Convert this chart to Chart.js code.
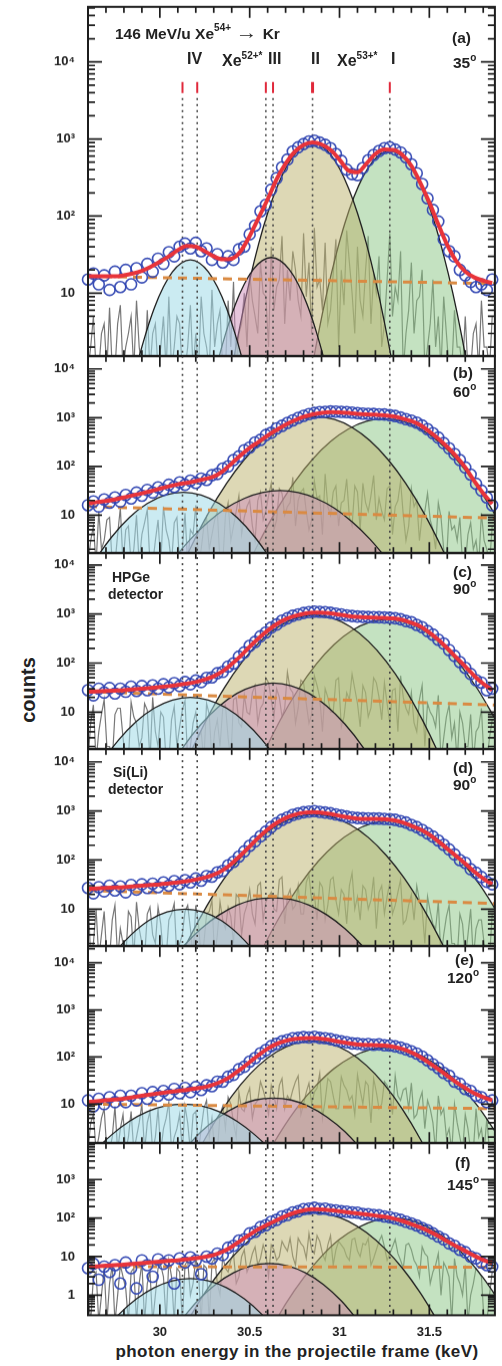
<!DOCTYPE html>
<html><head><meta charset="utf-8">
<script src="https://cdn.jsdelivr.net/npm/chart.js@4.4.1/dist/chart.umd.min.js"></script>
<style>
html,body{margin:0;padding:0;background:#fff;}
body{width:502px;height:1366px;overflow:hidden;position:relative;font-family:'Liberation Sans',Arial,sans-serif;}
.wrap{position:absolute;left:0;width:502px;}
.wrap canvas{display:block;}
.lbl{position:absolute;font-weight:bold;color:#222;font-size:15.5px;white-space:nowrap;line-height:16px;z-index:5;}
.lbl sup{font-size:10px;position:relative;top:-2px;vertical-align:top;line-height:10px;}
.big{font-size:16px;}
.det{font-size:14px;line-height:14px;}
.arrow{font-weight:normal;font-size:19px;display:inline-block;transform:scaleX(1.15);margin:0 2px;}
#ytitle{position:absolute;left:28px;top:690px;transform:translate(-50%,-50%) rotate(-90deg);font-weight:bold;font-size:20px;color:#222;white-space:nowrap;}
#xtitle{position:absolute;left:297px;top:1352px;transform:translate(-50%,-50%);font-weight:bold;font-size:17px;letter-spacing:0.4px;color:#222;white-space:nowrap;}
</style></head><body>
<div id="ytitle">counts</div>
<div id="xtitle">photon energy in the projectile frame (keV)</div>
<div class="lbl" style="left:115px;top:25px;">146 MeV/u Xe<sup>54+</sup> <span class="arrow">&rarr;</span> Kr</div>
<div class="lbl big" style="left:187px;top:51px;">IV</div>
<div class="lbl big" style="left:222px;top:53px;">Xe<sup>52+*</sup></div>
<div class="lbl big" style="left:268px;top:51px;">III</div>
<div class="lbl big" style="left:311px;top:51px;">II</div>
<div class="lbl big" style="left:337px;top:53px;">Xe<sup>53+*</sup></div>
<div class="lbl big" style="left:391px;top:51px;">I</div>
<div class="lbl" style="left:452px;top:30px;">(a)</div>
<div class="lbl" style="left:453px;top:55px;">35<sup>o</sup></div>
<div class="lbl" style="left:453px;top:365px;">(b)</div>
<div class="lbl" style="left:453px;top:384px;">60<sup>o</sup></div>
<div class="lbl det" style="left:112px;top:570px;">HPGe</div>
<div class="lbl det" style="left:108px;top:587px;">detector</div>
<div class="lbl" style="left:453px;top:564px;">(c)</div>
<div class="lbl" style="left:453px;top:581px;">90<sup>o</sup></div>
<div class="lbl det" style="left:113px;top:765px;">Si(Li)</div>
<div class="lbl det" style="left:108px;top:782px;">detector</div>
<div class="lbl" style="left:453px;top:760px;">(d)</div>
<div class="lbl" style="left:453px;top:777px;">90<sup>o</sup></div>
<div class="lbl" style="left:455px;top:952px;">(e)</div>
<div class="lbl" style="left:447px;top:970px;">120<sup>o</sup></div>
<div class="lbl" style="left:455px;top:1155px;">(f)</div>
<div class="lbl" style="left:447px;top:1177px;">145<sup>o</sup></div>
<script>
// ---------- shared grids ----------
const energy = [29.60,29.63,29.66,29.69,29.72,29.75,29.78,29.81,29.84,29.87,29.90,29.93,29.96,29.99,30.02,30.05,30.08,30.11,30.14,30.17,30.20,30.23,30.26,30.29,30.32,30.35,30.38,30.41,30.44,30.47,30.50,30.53,30.56,30.59,30.62,30.65,30.68,30.71,30.74,30.77,30.80,30.83,30.86,30.89,30.92,30.95,30.98,31.01,31.04,31.07,31.10,31.13,31.16,31.19,31.22,31.25,31.28,31.31,31.34,31.37,31.40,31.43,31.46,31.49,31.52,31.55,31.58,31.61,31.64,31.67,31.70,31.73,31.76,31.79,31.82,31.85];
const energyMid = [29.615,29.645,29.675,29.705,29.735,29.765,29.795,29.825,29.855,29.885,29.915,29.945,29.975,30.005,30.035,30.065,30.095,30.125,30.155,30.185,30.215,30.245,30.275,30.305,30.335,30.365,30.395,30.425,30.455,30.485,30.515,30.545,30.575,30.605,30.635,30.665,30.695,30.725,30.755,30.785,30.815,30.845,30.875,30.905,30.935,30.965,30.995,31.025,31.055,31.085,31.115,31.145,31.175,31.205,31.235,31.265,31.295,31.325,31.355,31.385,31.415,31.445,31.475,31.505,31.535,31.565,31.595,31.625,31.655,31.685,31.715,31.745,31.775,31.805,31.835];
const fitEnergy = [29.60,29.65,29.70,29.75,29.80,29.85,29.90,29.95,30.00,30.05,30.10,30.15,30.20,30.25,30.30,30.35,30.40,30.45,30.50,30.55,30.60,30.65,30.70,30.75,30.80,30.85,30.90,30.95,31.00,31.05,31.10,31.15,31.20,31.25,31.30,31.35,31.40,31.45,31.50,31.55,31.60,31.65,31.70,31.75,31.80,31.85];
const bgEnergy = [29.60, 31.86];
const lineEnergies = [30.126, 30.208, 30.59, 30.63, 30.85, 31.28];
const xTickValues = [29.7,29.8,29.9,30.0,30.1,30.2,30.3,30.4,30.5,30.6,30.7,30.8,30.9,31.0,31.1,31.2,31.3,31.4,31.5,31.6,31.7,31.8];
const xTickLabels = ['30','30.5','31','31.5'];
const yTickLabels = {1:'1', 10:'10', 100:'10\u00b2', 1000:'10\u00b3', 10000:'10\u2074'};

// ---------- panel (a) 35 deg ----------
const countsA = [15,18,13,17,11,19,12,20,13,21,16,24,19,28,24,34,30,40,44,38,45,35,38,27,32,25,30,27,37,40,58,75,115,140,220,310,430,540,690,780,860,930,950,900,840,760,640,520,400,350,340,420,530,620,700,760,780,730,670,580,470,360,260,170,120,85,50,35,30,20,17,14,12,13,11,15];
const fitA = [16.5,16.5,16.5,16.5,17,18,19.5,22,25.5,30,36,41,40,35,30,27.5,28,35,55,95,165,300,480,680,840,905,850,720,540,390,370,480,640,730,720,620,450,270,150,78,42,26,19,16,14.5,13.5];
const bgA = [16.5, 13.3];
const resA = [1,5,1,4,6.5,1,7,2,5,8,1,6,3,1,5,9,2,4,1,7,3,9,2,11,4,1,8,14,3,10,18,5,25,9,40,12,55,20,35,8,60,25,70,15,45,6,50,20,65,10,40,5,55,18,30,4,60,12,35,3,25,8,20,2,15,5,9,1,6,2,5,1,4,8,2,5];
const resA_mid = [2,1,3,1,1,4,1,3,1,2,1,1,4,2,1,1,5,1,2,1,1,3,1,2,6,1,2,1,4,2,8,3,10,2,6,15,4,8,20,5,9,3,12,6,4,18,2,7,25,3,8,20,4,10,2,15,5,8,1,6,3,9,1,4,2,1,3,1,2,1,1,3,1,2,1];
const a_IV = [[29.82,0.35],[29.87,1.1],[29.92,2.9],[29.97,6.5],[30.02,12.1],[30.07,18.9],[30.12,24.6],[30.17,27],[30.22,24.6],[30.27,18.9],[30.32,12.1],[30.37,6.5],[30.42,2.9],[30.47,1.1],[30.52,0.35]];
const a_III = [[30.27,0.4],[30.32,1.23],[30.37,3.2],[30.42,7.1],[30.47,13.1],[30.52,20.3],[30.57,26.4],[30.62,29],[30.67,26.4],[30.72,20.3],[30.77,13.1],[30.82,7.1],[30.87,3.2],[30.92,1.23],[30.97,0.4]];
const a_II = [[30.35,0.21],[30.40,1.02],[30.45,4.2],[30.50,14.7],[30.55,43.6],[30.60,109],[30.65,231],[30.70,415],[30.75,630],[30.80,809],[30.85,880],[30.90,809],[30.95,630],[31.00,415],[31.05,231],[31.10,109],[31.15,43.6],[31.20,14.7],[31.25,4.2],[31.30,1.02],[31.35,0.21]];
const a_I = [[30.78,0.13],[30.83,0.64],[30.88,2.8],[30.93,10.2],[30.98,31],[31.03,81],[31.08,176],[31.13,322],[31.18,495],[31.23,642],[31.28,700],[31.33,642],[31.38,495],[31.43,322],[31.48,176],[31.53,81],[31.58,31],[31.63,10.2],[31.68,2.8],[31.73,0.64],[31.78,0.13]];

// ---------- panel (b) 60 deg ----------
const countsB = [16,19,15,21,18,23,19,26,22,29,25,33,29,37,33,42,38,47,42,51,46,56,53,66,70,90,100,135,160,215,245,310,350,440,490,600,680,780,880,990,1090,1180,1250,1300,1320,1340,1330,1320,1300,1270,1240,1210,1200,1190,1170,1160,1120,1080,1010,930,870,790,690,580,480,390,300,235,180,135,95,68,44,32,23,16];
const fitB = [17.5,18.5,19.5,21,23,25.5,28,31,35,39,43,46,50,55,62,80,115,170,240,320,430,560,720,880,1040,1170,1260,1300,1290,1250,1200,1170,1150,1120,1060,960,850,700,520,370,250,160,95,50,28,17];
const bgB = [15, 8.7];
const resB = [1,6,12,3,9,1,14,5,1,10,4,13,1,8,15,3,7,1,11,5,16,2,9,4,12,1,18,6,25,9,20,3,30,12,45,8,28,15,60,20,35,5,50,25,70,10,40,18,55,6,30,45,12,65,22,8,40,15,50,3,35,20,10,28,5,18,2,12,6,9,1,7,3,11,2,6];
const resB_mid = [3,1,2,8,1,4,1,6,2,1,7,1,3,1,5,1,9,2,1,4,1,6,2,8,1,10,3,12,4,15,6,20,8,25,5,35,10,18,6,30,12,8,22,4,15,30,6,20,9,40,5,18,25,8,12,35,4,20,10,6,15,3,12,8,2,9,1,5,3,1,4,2,1,3,1];
const b_IV = [[29.53,0.24],[29.63,1.05],[29.73,3.5],[29.83,8.9],[29.93,17.3],[30.03,25.8],[30.13,29.5],[30.23,25.8],[30.33,17.3],[30.43,8.9],[30.53,3.5],[30.63,1.05],[30.73,0.24]];
const b_III = [[29.97,0.35],[30.07,1.16],[30.17,3.2],[30.27,7.3],[30.37,14],[30.47,22],[30.57,29],[30.67,32],[30.77,29],[30.87,22],[30.97,14],[31.07,7.3],[31.17,3.2],[31.27,1.16],[31.37,0.35]];
const b_II = [[30.07,0.32],[30.17,2.1],[30.27,11],[30.37,44],[30.47,138],[30.57,335],[30.67,631],[30.77,923],[30.87,1047],[30.97,923],[31.07,631],[31.17,335],[31.27,138],[31.37,44],[31.47,11],[31.57,2.1],[31.67,0.32]];
const b_I = [[30.45,0.45],[30.55,2.7],[30.65,12.8],[30.75,48],[30.85,140],[30.95,324],[31.05,589],[31.15,843],[31.25,950],[31.35,843],[31.45,589],[31.55,324],[31.65,140],[31.75,48],[31.85,12.8],[31.95,2.7]];

// ---------- panel (c) 90 deg HPGe ----------
const countsC = [28,22,30,25,31,24,30,26,33,27,34,28,35,30,37,32,39,34,41,37,44,41,50,51,62,66,85,98,135,165,225,270,350,420,530,610,730,820,920,980,1050,1090,1120,1110,1090,1060,1020,980,940,910,890,880,870,865,860,850,840,820,780,720,680,600,540,450,380,300,250,185,140,105,80,60,45,40,28,30];
const fitC = [26,26.5,27,27.5,28,29,30,31,32.5,34,36,38,41,46,54,68,95,140,215,320,460,620,780,910,1010,1070,1070,1030,970,910,870,850,840,830,810,760,660,560,420,300,200,130,85,55,38,28];
const bgC = [26, 14];
const resC = [1,14,4,18,2,9,12,1,16,6,3,11,20,2,8,1,13,5,17,2,10,4,15,1,7,12,3,18,6,22,9,35,12,50,18,30,8,65,25,12,40,6,55,20,30,10,45,5,25,60,15,35,8,50,20,40,6,30,55,12,25,4,35,15,8,22,3,14,6,10,2,9,4,12,1,7];
const resC_mid = [6,1,9,2,1,12,3,1,8,2,15,1,4,10,1,7,2,11,1,6,3,1,9,4,2,14,1,20,5,10,25,6,15,40,8,20,12,30,6,45,15,9,35,4,20,10,50,8,18,30,5,25,12,40,7,15,28,4,20,9,6,18,2,10,5,1,8,3,1,6,2,1,5,1,3];
const c_IV = [[29.57,0.22],[29.67,0.87],[29.77,2.7],[29.87,6.5],[29.97,12.1],[30.07,17.6],[30.17,20],[30.27,17.6],[30.37,12.1],[30.47,6.5],[30.57,2.7],[30.67,0.87],[30.77,0.22]];
const c_III = [[30.03,0.52],[30.13,1.95],[30.23,5.7],[30.33,13.2],[30.43,24.1],[30.53,34.5],[30.63,39],[30.73,34.5],[30.83,24.1],[30.93,13.2],[31.03,5.7],[31.13,1.95],[31.23,0.52]];
const c_II = [[30.06,0.16],[30.16,1.22],[30.26,7.1],[30.36,31.8],[30.46,108],[30.56,280],[30.66,552],[30.76,830],[30.86,950],[30.96,830],[31.06,552],[31.16,280],[31.26,108],[31.36,31.8],[31.46,7.1],[31.56,1.22],[31.66,0.16]];
const c_I = [[30.47,0.18],[30.57,1.26],[30.67,6.9],[30.77,29],[30.87,95],[30.97,239],[31.07,461],[31.17,684],[31.27,780],[31.37,684],[31.47,461],[31.57,239],[31.67,95],[31.77,29],[31.87,6.9]];

// ---------- panel (d) 90 deg Si(Li) ----------
const countsD = [27,21,28,23,30,24,29,22,31,25,32,27,33,28,35,30,37,32,39,35,42,38,47,46,56,60,78,92,118,150,195,240,305,380,470,560,660,740,830,890,940,970,990,960,930,900,850,810,770,740,720,710,705,700,700,690,680,660,620,580,520,470,410,350,300,250,205,165,130,100,88,65,55,45,36,32];
const fitD = [26,26.5,27,27.5,28,29,30,31,32,33.5,35,37,40,44,50,62,85,125,190,290,420,570,720,840,920,950,930,870,800,740,700,690,690,680,650,590,500,420,330,240,170,120,85,58,42,32];
const bgD = [24, 13];
const resD = [18,2,1,9,1,12,4,1,7,14,2,8,3,11,1,6,13,2,9,4,12,1,8,15,3,6,11,2,17,8,25,5,35,14,22,9,45,18,10,30,8,50,20,35,6,40,15,25,5,55,18,30,10,45,22,8,35,12,40,6,20,30,10,18,5,14,3,12,2,8,1,10,4,6,1,8];
const resD_mid = [1,10,3,1,6,1,2,9,1,4,1,11,2,5,1,8,1,3,12,1,5,2,9,1,14,4,7,20,3,12,8,30,6,18,10,40,5,25,12,8,35,15,6,28,12,45,8,20,30,10,6,25,15,4,30,18,8,22,5,12,6,15,2,9,4,1,7,2,1,5,3,1,6,2,1];
const d_IV = [[29.64,0.35],[29.74,1.18],[29.84,3.0],[29.94,5.9],[30.04,8.75],[30.14,10],[30.24,8.75],[30.34,5.9],[30.44,3.0],[30.54,1.18],[30.64,0.35]];
const d_III = [[29.93,0.19],[30.03,0.63],[30.13,1.74],[30.23,4.0],[30.33,7.6],[30.43,12],[30.53,15.8],[30.63,17],[30.73,15.8],[30.83,12],[30.93,7.6],[31.03,4.0],[31.13,1.74],[31.23,0.63],[31.33,0.19]];
const d_II = [[30.06,0.4],[30.16,2.4],[30.26,11.4],[30.36,43],[30.46,125],[30.56,290],[30.66,527],[30.76,755],[30.86,850],[30.96,755],[31.06,527],[31.16,290],[31.26,125],[31.36,43],[31.46,11.4],[31.56,2.4],[31.66,0.4]];
const d_I = [[30.48,0.3],[30.58,1.8],[30.68,8.5],[30.78,31.6],[30.88,93],[30.98,215],[31.08,391],[31.18,560],[31.28,630],[31.38,560],[31.48,391],[31.58,215],[31.68,93],[31.78,31.6],[31.88,8.5]];

// ---------- panel (e) 120 deg ----------
const countsE = [12,9,13,10,14,11,15,11,15,12,17,13,18,15,19,16,21,17,22,18,23,20,25,24,30,30,38,42,55,62,80,95,120,140,170,190,215,230,250,255,265,260,270,255,250,240,225,215,205,195,192,185,188,182,185,178,175,168,158,145,132,118,102,85,70,58,46,40,30,27,21,19,15,14,11,12];
const fitE = [11,11.5,12,12.5,13,14,15,16,17,18,19,20,21.5,23,26,31,40,55,78,110,150,190,220,240,250,252,245,230,210,195,185,180,178,175,165,148,125,100,75,55,40,29,22,17,14,12];
const bgE = [10, 8];
const resE = [1,6,2,8,1,9,3,1,7,2,10,4,1,8,3,11,2,6,9,1,7,3,12,5,1,9,14,4,18,7,22,10,30,12,25,8,35,15,20,40,10,28,18,45,12,30,8,38,20,15,42,10,25,35,8,30,18,40,12,22,28,6,18,12,4,15,8,3,10,2,6,1,8,3,5,1];
const resE_mid = [4,1,5,1,2,1,6,2,1,4,1,7,2,1,5,1,3,1,4,6,1,8,2,1,6,3,10,2,8,15,5,12,20,6,15,25,8,12,30,6,18,10,22,5,35,15,8,25,12,6,20,30,4,18,10,25,6,15,20,8,5,12,3,8,1,6,2,1,4,1,3,1,2,1,1];
const e_IV = [[29.53,0.33],[29.63,0.94],[29.73,2.2],[29.83,4.3],[29.93,6.9],[30.03,9.1],[30.13,10],[30.23,9.1],[30.33,6.9],[30.43,4.3],[30.53,2.2],[30.63,0.94],[30.73,0.33]];
const e_III = [[30.03,0.32],[30.13,1.0],[30.23,2.6],[30.33,5.3],[30.43,8.9],[30.53,12.2],[30.63,13.4],[30.73,12.2],[30.83,8.9],[30.93,5.3],[31.03,2.6],[31.13,1.0],[31.23,0.32]];
const e_II = [[30.15,0.32],[30.25,1.8],[30.35,7.8],[30.45,26],[30.55,66],[30.65,129],[30.75,192],[30.85,220],[30.95,192],[31.05,129],[31.15,66],[31.25,26],[31.35,7.8],[31.45,1.8],[31.55,0.32]];
const e_I = [[30.57,0.57],[30.67,2.5],[30.77,9],[30.87,25],[30.97,57],[31.07,101],[31.17,143],[31.27,160],[31.37,143],[31.47,101],[31.57,57],[31.67,25],[31.77,9],[31.87,2.5]];

// ---------- panel (f) 145 deg ----------
const countsF = [5,6.5,2.5,5.5,4,6,2,7,5,1.5,8,6,3,8.5,6.5,8,2,9,7,9.5,8,3.5,10,9,12,11,17,19,26,28,40,44,58,65,80,90,110,120,140,150,170,175,185,172,175,162,158,150,146,140,138,128,126,120,118,110,105,98,90,80,72,64,55,48,40,33,28,22,19,15,13,10,9,7,6,5.5];
const fitF = [5.5,5.6,5.8,6.0,6.2,6.5,6.8,7.1,7.4,7.7,8.0,8.5,9.1,9.8,11,13.5,18,26,37,52,68,88,112,138,158,170,168,160,150,140,132,124,116,108,97,84,70,57,45,34,25,18.5,14,10.5,8.2,6.8];
const bgF = [5.5, 5.3];
const resF = [1,3,0.2,5,2,0.2,6,1.5,4,0.2,7,2,0.2,5,3,8,0.2,4,6,1,9,0.2,5,7,2,10,4,12,3,15,6,18,9,12,20,8,25,14,10,30,18,40,12,25,8,35,15,20,10,28,14,22,30,9,25,18,12,28,8,20,15,6,18,10,4,12,7,3,9,2,6,1,5,3,0.2,4];
const resF_mid = [0.2,4,1,0.2,6,1,3,0.2,5,2,0.2,4,1,6,0.2,3,5,0.2,8,2,4,6,0.2,9,1,5,8,2,10,4,12,6,20,3,15,10,18,30,6,22,9,15,35,12,20,6,25,16,8,30,10,20,6,15,35,8,18,12,5,22,8,3,12,2,6,1,5,0.2,3,1,0.2,2,4,0.2,1];
const f_IV = [[29.67,0.093],[29.77,0.31],[29.87,0.8],[29.97,1.57],[30.07,2.35],[30.17,2.7],[30.27,2.35],[30.37,1.57],[30.47,0.8],[30.57,0.31],[30.67,0.093]];
const f_III = [[30.11,0.2],[30.21,0.71],[30.31,1.9],[30.41,3.8],[30.51,5.75],[30.61,6.6],[30.71,5.75],[30.81,3.8],[30.91,1.9],[31.01,0.71],[31.11,0.2]];
const f_II = [[30.15,0.2],[30.25,1.14],[30.35,5.0],[30.45,16.5],[30.55,42],[30.65,82],[30.75,122],[30.85,140],[30.95,122],[31.05,82],[31.15,42],[31.25,16.5],[31.35,5.0],[31.45,1.14],[31.55,0.2]];
const f_I = [[30.6,0.09],[30.7,0.59],[30.8,2.8],[30.9,10.2],[31.0,28],[31.1,56],[31.2,87],[31.3,100],[31.4,87],[31.5,56],[31.6,28],[31.7,10.2],[31.8,2.8],[31.9,0.59]];

// ---------- layout / style (not data) ----------
const compColors = ['rgba(160,218,232,0.55)','rgba(205,140,185,0.5)','rgba(188,178,108,0.5)','rgba(138,198,132,0.5)'];
const panels = [
  {top:7,   bottom:356,  min:1.52,  max:51800, counts:countsA, fit:fitA, bg:bgA, res:resA, resMid:resA_mid, comps:[a_IV,a_III,a_II,a_I], lineTop:3400, marks:true},
  {top:356, bottom:553,  min:1.66,  max:18500, counts:countsB, fit:fitB, bg:bgB, res:resB, resMid:resB_mid, comps:[b_IV,b_III,b_II,b_I], lineTop:1e6},
  {top:553, bottom:749,  min:1.76,  max:17600, counts:countsC, fit:fitC, bg:bgC, res:resC, resMid:resC_mid, comps:[c_IV,c_III,c_II,c_I], lineTop:1e6},
  {top:749, bottom:946,  min:1.76,  max:18400, counts:countsD, fit:fitD, bg:bgD, res:resD, resMid:resD_mid, comps:[d_IV,d_III,d_II,d_I], lineTop:1e6},
  {top:946, bottom:1143, min:1.48,  max:22900, counts:countsE, fit:fitE, bg:bgE, res:resE, resMid:resE_mid, comps:[e_IV,e_III,e_II,e_I], lineTop:1e6},
  {top:1143,bottom:1315, min:0.345, max:8900,  counts:countsF, fit:fitF, bg:bgF, res:resF, resMid:resF_mid, comps:[f_IV,f_III,f_II,f_I], lineTop:1e6, last:true}
];

Chart.defaults.font.family = "'Liberation Sans', Arial, sans-serif";
Chart.defaults.color = '#222';

function isDecade(v){ const l = Math.log10(v); return Math.abs(l - Math.round(l)) < 1e-9; }
function yTicksFor(p){
  const out = [];
  for (let e = Math.floor(Math.log10(p.min)); e <= Math.ceil(Math.log10(p.max)); e++) {
    for (let m = 1; m <= 9; m++) { const v = +(m * Math.pow(10, e)).toPrecision(6); if (v >= p.min && v <= p.max) out.push(v); }
  }
  return out;
}
function xLabelFor(v){
  for (const s of xTickLabels) if (Math.abs(parseFloat(s) - v) < 1e-6) return s;
  return '';
}
function residualPoints(p){
  const pts = [];
  energy.forEach((e,i) => {
    pts.push({x:e, y:p.res[i]});
    if (i < energyMid.length) pts.push({x:energyMid[i], y:p.resMid[i]});
  });
  return pts;
}

const framePlugin = {
  id: 'frame',
  afterDatasetsDraw(chart) {
    const {ctx, chartArea: a} = chart;
    const xs = chart.scales.x, ys = chart.scales.y;
    ctx.save();
    ctx.strokeStyle = '#1c1c1c';
    ctx.lineWidth = 1.7;
    ctx.beginPath();
    for (const t of ys.ticks) {
      const py = ys.getPixelForValue(t.value);
      if (py < a.top + 1 || py > a.bottom - 1) continue;
      const len = isDecade(t.value) ? 14 : 7;
      ctx.moveTo(a.left, py); ctx.lineTo(a.left + len, py);
      ctx.moveTo(a.right, py); ctx.lineTo(a.right - len, py);
    }
    for (const v of xTickValues) {
      const px = xs.getPixelForValue(v);
      const major = Math.abs(v * 2 - Math.round(v * 2)) < 1e-6;
      const len = major ? 11 : 6;
      ctx.moveTo(px, a.top); ctx.lineTo(px, a.top + len);
      ctx.moveTo(px, a.bottom); ctx.lineTo(px, a.bottom - len);
    }
    ctx.stroke();
    ctx.lineWidth = 2;
    ctx.strokeRect(a.left, a.top, a.right - a.left, a.bottom - a.top);
    ctx.restore();
  }
};

function makeDatasets(p) {
  const ds = [];
  ds.push({label:'fit', data: fitEnergy.map((e,i)=>({x:e, y:p.fit[i]})), borderColor:'#e8343a', borderWidth:4,
    pointRadius:0, cubicInterpolationMode:'monotone', capBezierPoints:false, fill:false, order:0});
  ds.push({label:'counts', data: energy.map((e,i)=>({x:e, y:p.counts[i]})), showLine:false, pointRadius:5.5,
    pointBorderWidth:1.6, pointBorderColor:'rgba(48,70,178,0.95)', pointBackgroundColor:'rgba(0,0,0,0)', order:1, clip:10});
  if (p.marks) {
    lineEnergies.forEach((E,i) => ds.push({data:[{x:E,y:5500},{x:E,y:3950}], borderColor:'#e0283a',
      borderWidth: i === 4 ? 3 : 2, pointRadius:0, fill:false, order:2}));
  }
  lineEnergies.forEach(E => ds.push({data:[{x:E,y:p.lineTop},{x:E,y:p.min/3}], borderColor:'#444',
    borderWidth:1.6, borderDash:[2,4], pointRadius:0, fill:false, order:2}));
  ds.push({label:'background', data: bgEnergy.map((e,i)=>({x:e, y:p.bg[i]})), borderColor:'#da8a42', borderWidth:3,
    borderDash:[9,6], pointRadius:0, fill:false, order:3});
  p.comps.forEach((c,j) => ds.push({data: c.map(([e,v])=>({x:e, y:v})), borderColor:'#1e1e1e', borderWidth:1.3,
    backgroundColor: compColors[j], fill:'start', pointRadius:0, cubicInterpolationMode:'monotone', capBezierPoints:false, order:4}));
  ds.push({label:'residual', data: residualPoints(p), borderColor:'rgba(85,85,85,0.8)', borderWidth:1.2,
    pointRadius:0, fill:false, order:5});
  return ds;
}

function makeOptions(p) {
  const yt = yTicksFor(p);
  return {
    responsive:false, maintainAspectRatio:false, animation:false, events:[],
    layout:{padding:{left:0, right:2, top:0, bottom:0}},
    plugins:{legend:{display:false}, tooltip:{enabled:false}},
    scales:{
      x:{type:'linear', min:29.6, max:31.865, display: !!p.last,
        afterBuildTicks: s => { s.ticks = xTickValues.map(v => ({value:v})); },
        grid:{display:false, drawTicks:false}, border:{display:false},
        ticks:{autoSkip:false, maxRotation:0, padding:9, font:{size:13, weight:'bold'}, color:'#222', callback: v => xLabelFor(v)},
        title:{display:false}
      },
      y:{type:'logarithmic', min:p.min, max:p.max,
        afterBuildTicks: s => { s.ticks = yt.map(v => ({value:v})); },
        afterFit: s => { s.width = 88; },
        grid:{display:false, drawTicks:false}, border:{display:false},
        ticks:{autoSkip:false, padding:13, font:{size:13, weight:'bold'}, color:'#222', callback: v => (yTickLabels[v] !== undefined ? yTickLabels[v] : '')}
      }
    }
  };
}

function buildPanel(p) {
  const wrap = document.createElement('div');
  wrap.className = 'wrap';
  document.body.appendChild(wrap);
  const h = p.bottom - p.top;
  const extra = p.last ? 60 : 30;
  let cv = document.createElement('canvas');
  cv.width = 502; cv.height = h + extra;
  cv.style.width = '502px'; cv.style.height = (h + extra) + 'px';
  wrap.appendChild(cv);
  let chart = new Chart(cv, {type:'line', data:{datasets: makeDatasets(p)}, options: makeOptions(p), plugins:[framePlugin]});
  const t = chart.chartArea.top, b = (h + extra) - chart.chartArea.bottom;
  chart.destroy();
  wrap.removeChild(cv);
  const H = h + t + b;
  cv = document.createElement('canvas');
  cv.width = 502; cv.height = H;
  cv.style.width = '502px'; cv.style.height = H + 'px';
  wrap.appendChild(cv);
  wrap.style.top = (p.top - t) + 'px';
  new Chart(cv, {type:'line', data:{datasets: makeDatasets(p)}, options: makeOptions(p), plugins:[framePlugin]});
}

panels.forEach(buildPanel);
</script>
</body></html>
